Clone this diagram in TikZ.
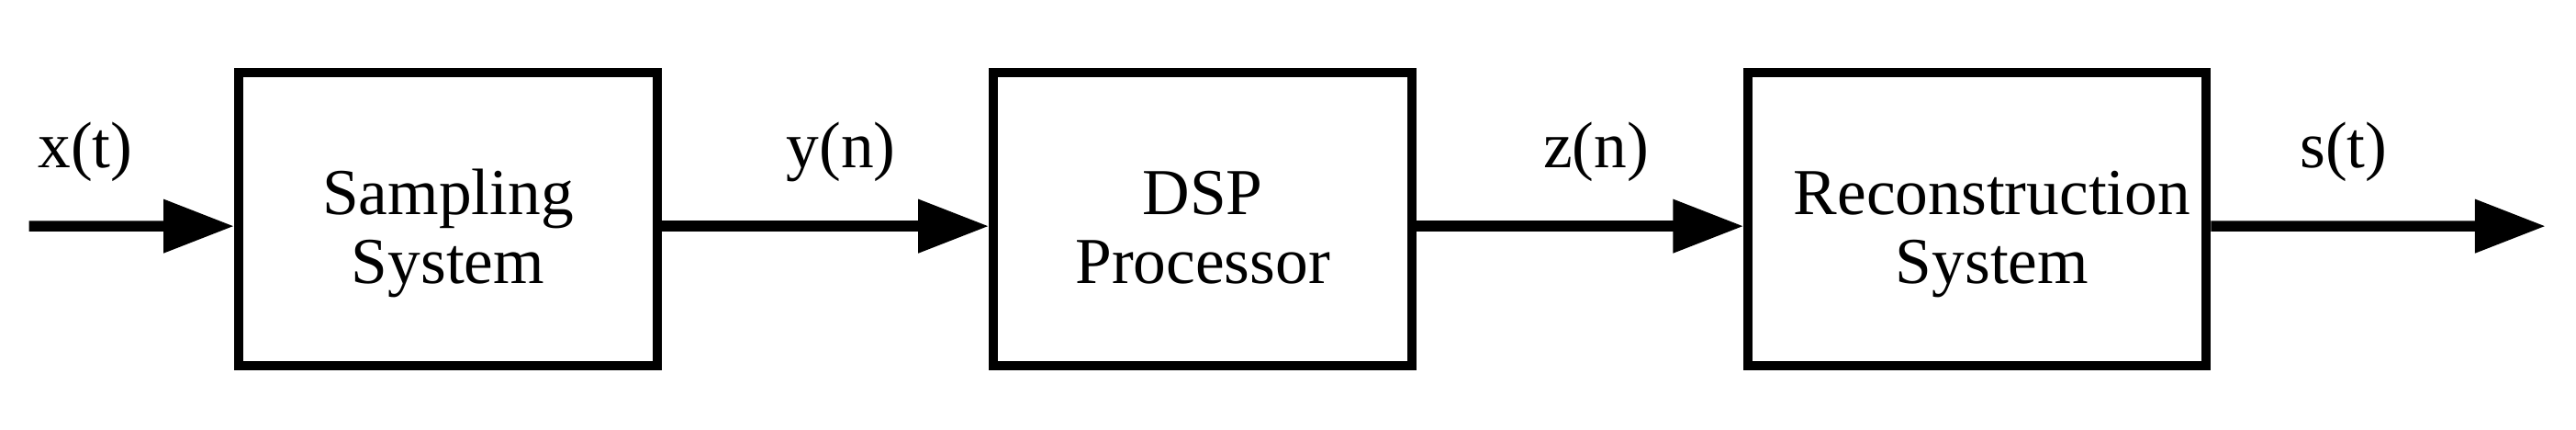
\documentclass[tikz,border=0pt]{standalone}
\usepackage{fontspec}
\setmainfont{Liberation Serif}
\usepackage{tikz}
\usetikzlibrary{shapes,arrows,positioning,arrows.meta}
\tikzstyle{block} = [rectangle, draw, line width=3.2pt, text width=5cm, align=center, inner sep=0pt,
    minimum width=5.096cm, minimum height=3.565cm, text height=0.6cm, text depth=0.72cm,
    font=\fontsize{22.7}{24}\selectfont]
\tikzstyle{line} = [draw, line width=3.7pt, -{Triangle[length=0.86cm, width=0.622cm]}]
\tikzstyle{signal} = [anchor=base, inner sep=0pt, font=\fontsize{22.7}{24}\selectfont]

\begin{document}
\begin{tikzpicture}[auto, node distance=3.98cm]
    \useasboundingbox (0,0) rectangle (31.36,5.23);

    % Sampling System
    \node [block] (sampling) at (5.454,2.565) {Sampling\\System};

    % DSP Processor
    \node [block, right=of sampling] (dsp) {DSP\\Processor};

    % Reconstruction System
    \node [block, right=of dsp, minimum width=5.577cm, text width=5.5cm] (recon)
        {\hspace*{0.36cm}Reconstruction\\\hspace*{0.36cm}System};

    % input and output ends
    \coordinate (in) at (0.353,2.479);
    \coordinate (out) at (30.99,2.479);

    % Signals
    \node [signal] (xt) at (1.039,3.189) {x(t)};
    \node [signal] (yn) at (10.24,3.189) {y(n)};
    \node [signal] (zn) at (19.43,3.189) {z(n)};
    \node [signal] (st) at (28.53,3.189) {s(t)};

    % Arrows
    \path [line] (in) -- ([yshift=-0.086cm]sampling.west);
    \path [line] ([yshift=-0.086cm]sampling.east) -- ([yshift=-0.086cm]dsp.west);
    \path [line] ([yshift=-0.086cm]dsp.east) -- ([yshift=-0.086cm]recon.west);
    \path [line] ([yshift=-0.086cm]recon.east) -- (out);

\end{tikzpicture}
\end{document}
